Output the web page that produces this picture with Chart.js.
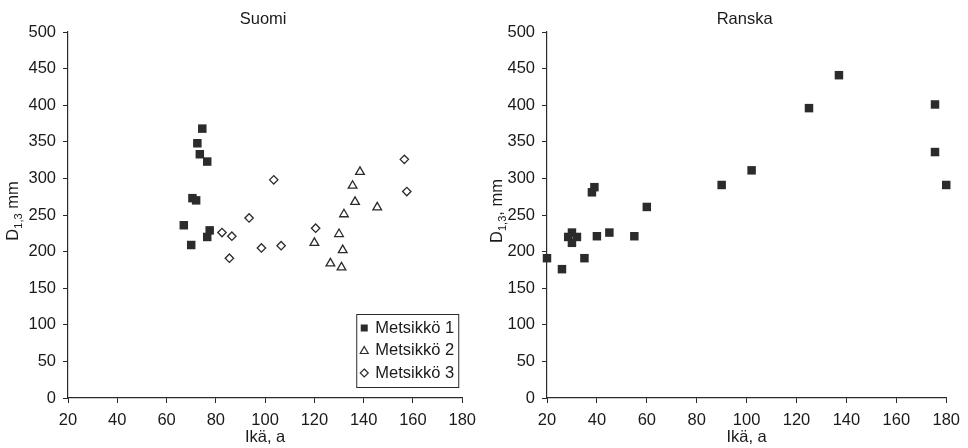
<!DOCTYPE html>
<html>
<head>
<meta charset="utf-8">
<script src="https://cdn.jsdelivr.net/npm/chart.js@4/dist/chart.umd.min.js"></script>
<style>
  body { margin: 0; background: #fff; }
  .row { display: flex; width: 968px; height: 448px; }
  canvas { display: block; }
</style>
</head>
<body>
<div class="row">
  <canvas id="suomi" width="484" height="448"></canvas>
  <canvas id="ranska" width="484" height="448"></canvas>
</div>
<script>
'use strict';

// Suomi, three stands (age a, D1,3 mm)
var suomiAge1 = [67, 70, 70.5, 72, 72.5, 73.5, 74.5, 76.5, 76.5, 77.5];
var suomiD1 = [236, 209, 273, 270, 348, 333, 368, 323, 220, 229];
var suomiAge2 = [120, 126.5, 130, 131, 131.5, 132, 135.5, 136.5, 138.5, 145.5];
var suomiD2 = [212, 184, 224, 178.5, 202, 251, 290, 268, 309, 260.5];
var suomiAge3 = [82.5, 85.5, 86.5, 93.5, 98.5, 103.5, 106.5, 120.5, 156.5, 157.5];
var suomiD3 = [226, 191, 221, 246, 205, 298, 208, 232, 326, 282];

// Ranska
var ranskaAge = [20, 26, 28.5, 30, 30, 32, 35, 38, 39, 40, 45, 55, 60, 90, 102, 125, 137, 175.5, 175.5, 180];
var ranskaD = [191, 176, 220, 226, 212, 220, 191, 281, 288, 221, 226, 221, 261, 291, 311, 396, 441, 401, 336, 291];

var seriesNames = ['Metsikkö 1', 'Metsikkö 2', 'Metsikkö 3'];
var xTicks = [20, 40, 60, 80, 100, 120, 140, 160, 180];
var yTicks = [0, 50, 100, 150, 200, 250, 300, 350, 400, 450, 500];

var ink = '#2b2b2b';
var textInk = '#1a1a1a';
var fontFamily = '"Liberation Sans", Arial, sans-serif';
var fontSize = 16.5;

function toPoints(xs, ys) {
   return xs.map(function (x, i) { return { x: x, y: ys[i] }; });
}

// centered title above the plot
var titlePlugin = {
   id: 'topTitle',
   afterDraw: function (chart, args, opts) {
      var ctx = chart.ctx, a = chart.chartArea;
      ctx.save();
      ctx.font = fontSize + 'px ' + fontFamily;
      ctx.fillStyle = textInk;
      ctx.textAlign = 'center';
      ctx.textBaseline = 'middle';
      ctx.fillText(opts.text, (a.left + a.right) / 2 - 2, 19);
      ctx.restore();
   }
};

// rotated y title with subscript: D1,3 mm
var yTitlePlugin = {
   id: 'yTitle',
   afterDraw: function (chart, args, opts) {
      var ctx = chart.ctx, a = chart.chartArea;
      var big = fontSize + 'px ' + fontFamily;
      var small = '11px ' + fontFamily;
      ctx.save();
      ctx.fillStyle = textInk;
      ctx.textBaseline = 'alphabetic';
      ctx.font = big;
      var w1 = ctx.measureText(opts.main).width;
      var w3 = ctx.measureText(opts.rest).width;
      ctx.font = small;
      var w2 = ctx.measureText(opts.sub).width;
      var total = w1 + w2 + w3;
      ctx.translate(18, (a.top + a.bottom) / 2 - 4);
      ctx.rotate(-Math.PI / 2);
      var x = -total / 2;
      ctx.font = big;
      ctx.fillText(opts.main, x, 0);
      ctx.font = small;
      ctx.fillText(opts.sub, x + w1, 4);
      ctx.font = big;
      ctx.fillText(opts.rest, x + w1 + w2, 0);
      ctx.restore();
   }
};

function drawMarker(ctx, style, x, y) {
   ctx.beginPath();
   if (style === 'rect') {
      ctx.rect(x - 3.5, y - 3.5, 7, 7);
      ctx.fillStyle = ink;
      ctx.fill();
      return;
   }
   if (style === 'triangle') {
      ctx.moveTo(x, y - 4);
      ctx.lineTo(x + 4, y + 3);
      ctx.lineTo(x - 4, y + 3);
      ctx.closePath();
   } else {
      ctx.moveTo(x, y - 4);
      ctx.lineTo(x + 4, y);
      ctx.lineTo(x, y + 4);
      ctx.lineTo(x - 4, y);
      ctx.closePath();
   }
   ctx.lineWidth = 1.2;
   ctx.strokeStyle = ink;
   ctx.stroke();
}

// boxed legend in the lower right corner of the plot
var boxLegendPlugin = {
   id: 'boxLegend',
   afterDraw: function (chart) {
      var ctx = chart.ctx, a = chart.chartArea;
      var w = 102, h = 73;
      var left = a.right - 4 - w, top = a.bottom - 11 - h;
      ctx.save();
      ctx.fillStyle = '#fff';
      ctx.fillRect(left, top, w, h);
      ctx.lineWidth = 1;
      ctx.strokeStyle = ink;
      ctx.strokeRect(left + 0.5, top + 0.5, w, h);
      ctx.font = fontSize + 'px ' + fontFamily;
      ctx.textBaseline = 'middle';
      chart.data.datasets.forEach(function (ds, i) {
         var cy = top + 14 + i * 22.5;
         drawMarker(ctx, ds.pointStyle, left + 8, cy);
         ctx.fillStyle = textInk;
         ctx.fillText(ds.label, left + 19, cy);
      });
      ctx.restore();
   }
};

function makeScales(yWidth) {
   var tickFont = { family: fontFamily, size: fontSize };
   return {
      x: {
         type: 'linear', min: 20, max: 180,
         afterBuildTicks: function (s) { s.ticks = xTicks.map(function (v) { return { value: v }; }); },
         afterFit: function (s) { s.height = 50; },
         grid: { drawOnChartArea: false, drawTicks: true, tickLength: 5, color: ink, lineWidth: 1 },
         border: { display: true, color: ink, width: 1.2 },
         ticks: { color: textInk, font: tickFont, padding: 8, maxRotation: 0 },
         title: { display: true, text: 'Ikä, a', color: textInk, font: tickFont, padding: { top: 0, bottom: 1 } }
      },
      y: {
         type: 'linear', min: 0, max: 500,
         afterBuildTicks: function (s) { s.ticks = yTicks.map(function (v) { return { value: v }; }); },
         afterFit: function (s) { s.width = yWidth; },
         grid: { drawOnChartArea: false, drawTicks: true, tickLength: 5, color: ink, lineWidth: 1 },
         border: { display: true, color: ink, width: 1.2 },
         ticks: { color: textInk, font: tickFont, padding: 7 }
      }
   };
}

var suomiChart = new Chart(document.getElementById('suomi').getContext('2d'), {
   type: 'scatter',
   data: {
      datasets: [{
         label: seriesNames[0],
         data: toPoints(suomiAge1, suomiD1),
         pointStyle: 'rect', pointRadius: 6,
         backgroundColor: ink, borderColor: ink, borderWidth: 0
      }, {
         label: seriesNames[1],
         data: toPoints(suomiAge2, suomiD2),
         pointStyle: 'triangle', pointRadius: 5,
         backgroundColor: 'rgba(255,255,255,0)', borderColor: ink, borderWidth: 1.3
      }, {
         label: seriesNames[2],
         data: toPoints(suomiAge3, suomiD3),
         pointStyle: 'rectRot', pointRadius: 4.2,
         backgroundColor: 'rgba(255,255,255,0)', borderColor: ink, borderWidth: 1.3
      }]
   },
   options: {
      responsive: false,
      animation: false,
      events: [],
      clip: false,
      layout: { padding: { left: 0, right: 21, top: 32, bottom: 0 } },
      scales: makeScales(68),
      plugins: {
         legend: { display: false },
         tooltip: { enabled: false },
         topTitle: { text: 'Suomi' },
         yTitle: { main: 'D', sub: '1,3', rest: ' mm' }
      }
   },
   plugins: [titlePlugin, yTitlePlugin, boxLegendPlugin]
});

var ranskaChart = new Chart(document.getElementById('ranska').getContext('2d'), {
   type: 'scatter',
   data: {
      datasets: [{
         label: 'Ranska',
         data: toPoints(ranskaAge, ranskaD),
         pointStyle: 'rect', pointRadius: 6,
         backgroundColor: ink, borderColor: ink, borderWidth: 0
      }]
   },
   options: {
      responsive: false,
      animation: false,
      events: [],
      clip: false,
      layout: { padding: { left: 0, right: 19, top: 32, bottom: 0 } },
      scales: makeScales(63),
      plugins: {
         legend: { display: false },
         tooltip: { enabled: false },
         topTitle: { text: 'Ranska' },
         yTitle: { main: 'D', sub: '1,3', rest: ', mm' }
      }
   },
   plugins: [titlePlugin, yTitlePlugin]
});
</script>
</body>
</html>
